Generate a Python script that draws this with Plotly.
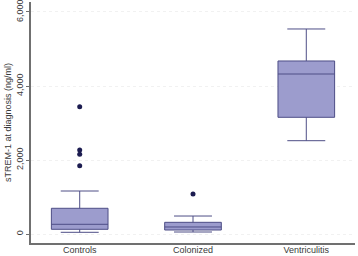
import plotly.graph_objects as go

categories = ["Controls", "Colonized", "Ventriculitis"]
q1 = [127, 108, 3154]
median = [262, 190, 4324]
q3 = [695, 316, 4676]
lower_whisker = [46, 54, 2522]
upper_whisker = [1162, 486, 5541]

outlier_cats = ["Controls", "Controls", "Controls", "Controls", "Colonized"]
outlier_vals = [1846, 2154, 2270, 3441, 1081]

y_ticks = [0, 2000, 4000, 6000]
y_tick_labels = ["0", "2,000", "4,000", "6,000"]

fill = "#9c9ccd"
edge = "#4e4e86"

fig = go.Figure()
fig.add_trace(go.Box(
    x=categories, q1=q1, median=median, q3=q3,
    lowerfence=lower_whisker, upperfence=upper_whisker,
    fillcolor=fill, line=dict(color=edge, width=1),
    width=0.5, whiskerwidth=0.67, boxpoints=False, showlegend=False,
))
fig.add_trace(go.Scatter(
    x=outlier_cats, y=outlier_vals, mode="markers",
    marker=dict(color="#1c1c50", size=5), showlegend=False,
))

fig.update_layout(
    width=358, height=256,
    margin=dict(l=31, r=3, t=2, b=13),
    paper_bgcolor="white", plot_bgcolor="white",
    font=dict(family="Liberation Sans, Arial, sans-serif", size=9, color="#3a3a3a"),
)
fig.update_xaxes(
    type="category", range=[-0.43, 2.43], automargin=False,
    showline=True, linecolor="#707070", linewidth=1.5,
    showgrid=False, ticks="", tickfont=dict(size=9),
    ticklabelstandoff=-3,
)
fig.update_yaxes(
    range=[-243, 6270], tickvals=y_ticks, ticktext=y_tick_labels,
    tickangle=-90, automargin=False, ticklabeloverflow="allow",
    showline=True, linecolor="#707070", linewidth=1.5,
    ticks="outside", ticklen=3, tickcolor="#707070",
    showgrid=True, gridcolor="#f1f1f1", griddash="dot", gridwidth=1,
    zeroline=False, tickfont=dict(size=9),
    title=dict(text="sTREM-1 at diagnosis (ng/ml)", font=dict(size=9), standoff=2),
)
fig.write_html(
    "out.html",
    config={"displayModeBar": False},
    post_script="document.body.style.margin='0';document.body.style.overflow='hidden';",
)
